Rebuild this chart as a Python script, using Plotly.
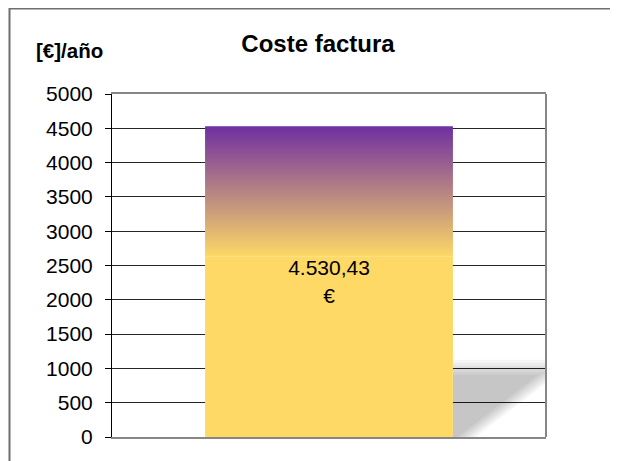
import plotly.graph_objects as go

# ---------------- data ----------------
CATEGORIES = ["Coste factura"]
COSTE = [4530.43]
Y_TICKS = [0, 500, 1000, 1500, 2000, 2500, 3000, 3500, 4000, 4500, 5000]
Y_TICK_LABELS = ["0", "500", "1000", "1500", "2000", "2500", "3000", "3500", "4000", "4500", "5000"]
TITLE = "Coste factura"
Y_LABEL = "[€]/año"
UNIT = "€"

# ---------------- style ----------------
FONT = "Liberation Sans, Arial, sans-serif"
YELLOW = (254, 217, 102)
PURPLE = (112, 48, 160)
BAR_WIDTH = 0.571
GRAD_START = 0.58     # fraction of bar height where the gradient begins
N_SLICES = 65
OFF = 8               # page body margin
W, H = 618 - OFF, 461 - OFF
M_L, M_R, M_T, M_B = 112 - OFF, 72, 94 - OFF, 24
PLOT_W = W - M_L - M_R
PLOT_H = H - M_T - M_B
Y_MAX = 5000
PX_X = 1.0 / PLOT_W            # x data units per pixel
PX_Y = Y_MAX / PLOT_H          # y data units per pixel


def rgb(c):
    return "rgb(%d,%d,%d)" % tuple(int(round(v)) for v in c)


def lerp(a, b, t):
    return tuple(a[i] + (b[i] - a[i]) * t for i in range(3))


def fmt_es(v):
    s = f"{v:,.2f}"
    return s.replace(",", "X").replace(".", ",").replace("X", ".")


def px_x(p):   # page x pixel -> paper coordinate
    return (p - OFF - M_L) / PLOT_W


def px_y(p):   # page y pixel -> paper coordinate
    return (M_T + PLOT_H - (p - OFF)) / PLOT_H


fig = go.Figure()
xs = list(range(len(CATEGORIES)))

for xi, v in zip(xs, COSTE):
    # shadow (soft, skewed) to the right of the bar
    sh_h = 0.22 * v
    xl = xi + BAR_WIDTH / 2
    xb = xl + 12 * PX_X
    slope = 1.3 * PX_X / PX_Y
    for e in [-4, -2, 0, 2, 4, 6]:
        top = sh_h + 1.5 * e * PX_Y
        xbr = xb + 1.8 * e * PX_X
        fig.add_trace(go.Scatter(
            x=[xl, xl, xbr + slope * top, xbr, xl],
            y=[0, top, top, 0, 0],
            mode="lines", fill="toself",
            line=dict(width=0, color="rgba(0,0,0,0)"),
            fillcolor="rgba(0,0,0,0.038)",
            hoverinfo="skip", showlegend=False,
        ))

    # solid lower part
    g0 = v * GRAD_START
    fig.add_trace(go.Bar(
        x=[xi], y=[g0], base=[0], width=BAR_WIDTH,
        marker=dict(color=rgb(YELLOW), line=dict(width=0)),
        hoverinfo="skip", showlegend=False,
    ))
    # gradient upper part
    step = (v - g0) / N_SLICES
    ov = step * 0.4
    bases = [g0 + i * step - (ov if i > 0 else 0) for i in range(N_SLICES)]
    heights = [step + (ov if i > 0 else 0) for i in range(N_SLICES)]
    colors = [rgb(lerp(YELLOW, PURPLE, (i + 0.5) / N_SLICES)) for i in range(N_SLICES)]
    fig.add_trace(go.Bar(
        x=[xi] * N_SLICES, y=heights, base=bases, width=BAR_WIDTH,
        marker=dict(color=colors, line=dict(width=0)),
        hoverinfo="skip", showlegend=False,
    ))
    # full-height transparent bar carrying the value label
    fig.add_trace(go.Bar(
        x=[xi], y=[v], width=BAR_WIDTH,
        marker=dict(color="rgba(0,0,0,0)", line=dict(width=0)),
        text=[fmt_es(v) + "<br>" + UNIT],
        textposition="inside", insidetextanchor="middle", textangle=0,
        constraintext="none",
        insidetextfont=dict(family=FONT, size=21, color="black"),
        name=CATEGORIES[xi], showlegend=False,
    ))

fig.update_layout(
    width=W, height=H,
    margin=dict(l=M_L, r=M_R, t=M_T, b=M_B, pad=0),
    paper_bgcolor="white", plot_bgcolor="white",
    barmode="overlay",
    showlegend=False,
    font=dict(family=FONT, color="black"),
    title=dict(text="<b>" + TITLE + "</b>", x=(318 - OFF) / W, xref="container", xanchor="center",
               y=1 - (44 - OFF) / H, yref="container", yanchor="middle",
               font=dict(family=FONT, size=24, color="black")),
    xaxis=dict(range=[-0.5, 0.5], showticklabels=False, ticks="", showgrid=False,
               zeroline=False, showline=True, linecolor="#868686", linewidth=2,
               mirror=True, fixedrange=True),
    yaxis=dict(range=[0, Y_MAX], tickvals=Y_TICKS, ticktext=Y_TICK_LABELS,
               ticks="outside", ticklen=6, tickcolor="black", tickwidth=1,
               showline=True, linecolor="black", linewidth=1,
               showgrid=True, gridcolor="#262626", gridwidth=1, zeroline=False,
               tickfont=dict(family=FONT, size=21, color="black"),
               ticklabelstandoff=8, fixedrange=True),
    annotations=[dict(text="<b>" + Y_LABEL + "</b>", xref="paper", yref="paper",
                      x=px_x(69.5), y=px_y(51),
                      xanchor="center", yanchor="middle", showarrow=False,
                      font=dict(family=FONT, size=20.5, color="black"))],
    shapes=[
        dict(type="line", xref="paper", yref="paper", x0=1, x1=1, y0=0, y1=1,
             line=dict(color="#868686", width=2)),
        dict(type="rect", xref="paper", yref="paper",
             x0=px_x(9.5), x1=px_x(616.5),
             y0=px_y(480), y1=px_y(8.5),
             line=dict(color="#6e6e6e", width=2), fillcolor="rgba(0,0,0,0)"),
    ],
)

fig.write_html("out.html")
